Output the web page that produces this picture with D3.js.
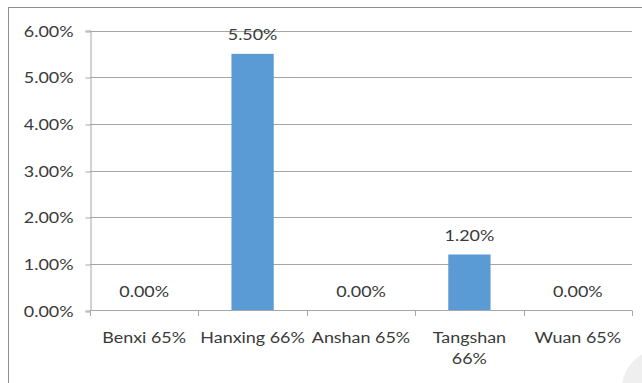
<!DOCTYPE html>
<html>
<head>
<meta charset="utf-8">
<script src="https://cdn.jsdelivr.net/npm/d3@7"></script>
<style>
  html, body { margin: 0; padding: 0; background: #fff; }
  svg { display: block; }
  text { font-family: Lato, "Open Sans", sans-serif; fill: #3a3a3a; }
</style>
</head>
<body>
<svg id="chart" width="642" height="383"></svg>
<script>
// Data
const categories = ["Benxi 65%", "Hanxing 66%", "Anshan 65%", "Tangshan 66%", "Wuan 65%"];
const values = [0.0, 0.055, 0.0, 0.012, 0.0];
const yTicks = [0, 0.01, 0.02, 0.03, 0.04, 0.05, 0.06];

const W = 642, H = 383;
const margin = { left: 90, right: 10, top: 30.5, bottom: 72.5 };
const plotW = 632 - margin.left;
const fontSize = 16;
const stretch = 1.12; // horizontal stretch of labels

const svg = d3.select("#chart");

// Outer chart frame
svg.append("rect")
  .attr("x", 8.5).attr("y", 7.5)
  .attr("width", W + 10).attr("height", H + 10)
  .attr("fill", "#fff").attr("stroke", "#8f8f8f").attr("stroke-width", 1);

const x = d3.scaleBand()
  .domain(categories)
  .range([margin.left, margin.left + plotW])
  .paddingInner(0.61).paddingOuter(0.305);

const xTicks = d3.scaleBand().domain(categories).range([margin.left, margin.left + plotW]);

const y = d3.scaleLinear().domain([0, 0.06]).range([310.5, 30.5]);
const fmt = d3.format(".2%");

// Horizontal gridlines
svg.append("g")
  .selectAll("line")
  .data(yTicks.filter(d => d > 0))
  .join("line")
  .attr("x1", margin.left).attr("x2", margin.left + plotW)
  .attr("y1", d => Math.round(y(d)) + 0.5).attr("y2", d => Math.round(y(d)) + 0.5)
  .attr("stroke", "#a6a6a6").attr("stroke-width", 1);

// Y axis
const yAxis = svg.append("g")
  .attr("transform", `translate(${margin.left + 0.5},0)`)
  .call(d3.axisLeft(y).tickValues(yTicks).tickFormat(fmt).tickSize(5).tickPadding(8));
yAxis.select(".domain").attr("stroke", "#a6a6a6");
yAxis.selectAll(".tick line").attr("stroke", "#a6a6a6")
  .attr("transform", d => `translate(0,${Math.round(y(d)) + 0.5 - y(d)})`);
yAxis.selectAll(".tick text")
  .attr("font-size", fontSize).attr("fill", "#3a3a3a")
  .style("font-family", "Lato, sans-serif")
  .attr("transform", d => `translate(-17,0) scale(${stretch},1)`)
  .attr("x", 0).attr("dy", "0.36em");

// Bars
svg.append("g")
  .selectAll("rect")
  .data(categories.map((c, i) => ({ c, v: values[i] })))
  .join("rect")
  .attr("x", d => x(d.c))
  .attr("width", x.bandwidth())
  .attr("y", d => y(d.v))
  .attr("height", d => y(0) - y(d.v))
  .attr("fill", "#5b9bd5");

// X axis baseline and ticks
const xg = svg.append("g");
xg.append("line")
  .attr("x1", margin.left).attr("x2", margin.left + plotW)
  .attr("y1", 310.5).attr("y2", 310.5)
  .attr("stroke", "#a6a6a6");
const bounds = categories.map(c => xTicks(c)).concat([margin.left + plotW]);
xg.selectAll("line.tick")
  .data(bounds)
  .join("line")
  .attr("class", "tick")
  .attr("x1", d => Math.round(d) + 0.5).attr("x2", d => Math.round(d) + 0.5)
  .attr("y1", 310.5).attr("y2", 316)
  .attr("stroke", "#a6a6a6");

// Category labels, wrapped to band width
const step = xTicks.step();
const labels = xg.selectAll("g.lbl")
  .data(categories)
  .join("g")
  .attr("class", "lbl")
  .attr("transform", d => `translate(${xTicks(d) + step / 2},343) scale(${stretch},1)`);
labels.each(function (d) {
  const g = d3.select(this);
  const words = d.split(" ");
  const t = g.append("text").attr("text-anchor", "middle").attr("font-size", fontSize).text(d);
  if (t.node().getComputedTextLength() * stretch > step - 2) {
    t.text(null);
    let lines = [], cur = [];
    words.forEach(w => {
      const trial = cur.concat([w]).join(" ");
      const probe = g.append("text").attr("font-size", fontSize).text(trial);
      const wd = probe.node().getComputedTextLength() * stretch;
      probe.remove();
      if (wd > step - 2 && cur.length) { lines.push(cur.join(" ")); cur = [w]; }
      else cur.push(w);
    });
    lines.push(cur.join(" "));
    lines.forEach((l, i) => t.append("tspan").attr("x", 0).attr("y", i * 21).text(l));
  }
});

// Value labels
svg.append("g")
  .selectAll("text")
  .data(categories.map((c, i) => ({ c, v: values[i] })))
  .join("text")
  .attr("text-anchor", "middle")
  .attr("font-size", fontSize)
  .attr("transform", d => `translate(${x(d.c) + x.bandwidth() / 2},${y(d.v) - 14}) scale(${stretch},1)`)
  .text(d => fmt(d.v));

// Corner decoration
svg.append("circle")
  .attr("cx", 660).attr("cy", 388).attr("r", 38)
  .attr("fill", "#efefef");
</script>
</body>
</html>
